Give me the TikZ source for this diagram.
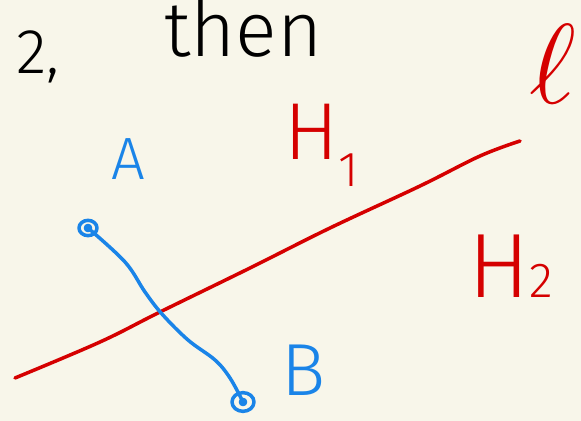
\documentclass[tikz,border=0pt]{standalone}
\usepackage{fontspec}
\newfontfamily\hand{Fira Sans Light}
\definecolor{paper}{HTML}{F8F6EA}
\definecolor{inkred}{HTML}{D50000}
\definecolor{inkblue}{HTML}{1A84E8}
\newcommand{\sz}[1]{\fontsize{#1}{#1}\selectfont}
\newcommand{\lowsub}[3]{\raisebox{-#1}{\sz{#2}#3}}
\begin{document}
\begin{tikzpicture}[x=0.02cm,y=-0.02cm,line join=round,line cap=round,font=\hand,
	ink/.style={line width=2pt}]
				\fill[paper] (0,0) rectangle (581,421);
				\useasboundingbox (0,0) rectangle (581,421);
				\path (15,378) coordinate (L1)
				(520,141) coordinate (L2)
				(88,228) coordinate (A)
				(243,402) coordinate (B);
				% line l
				\draw[ink,inkred] plot[smooth,tension=0.6] coordinates {(L1) (100,342) (160,312) (250,268) (330,228) (420,186) (480,156) (L2)};
				% segment AB
				\draw[ink,inkblue] plot[smooth,tension=0.6] coordinates {(A) (125,262) (145,292) (162,314) (188,340) (215,360) (230,378) (B)};
				\foreach \p/\r in {A/9,B/11}{\draw[ink,inkblue] (\p) circle[x radius=\r,y radius=\r*0.85] (\p) circle[radius=2.5];}
				\foreach \p/\x/\y/\s in {A/128/180/34,B/304/396/42}{\node[inkblue,anchor=base,font=\hand\sz{\s}] (lab\p) at (\x,\y) {\p};}
				% texts
				\node[anchor=base west,font=\hand\sz{36}] (two) at (10,74) {2,};
				\node[anchor=base west,font=\hand\sz{44}] (then) at (158,57) {then};
				\node[inkred,anchor=base west,font=\hand\sz{46}] (H1) at (278,160) {H\lowsub{15pt}{28}{1}};
				\node[inkred,anchor=base west,font=\hand\sz{52}] (H2) at (462,298) {H\lowsub{0pt}{28}{2}};
				\node[inkred,anchor=base,font=\Huge,scale=2.6] (ell) at (553,104) {$\ell$};
\end{tikzpicture}
\end{document}
